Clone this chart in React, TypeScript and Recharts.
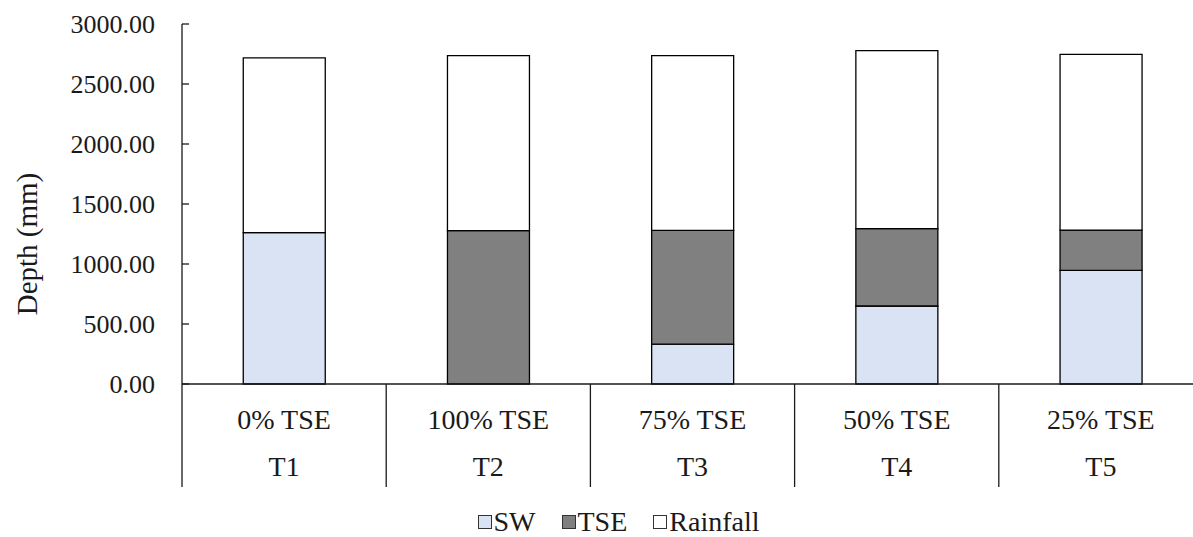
import { BarChart, Bar, XAxis, YAxis, Legend } from "recharts";

document.body.style.margin = "0";

const treatments = ["T1", "T2", "T3", "T4", "T5"];
const tseShares = ["0% TSE", "100% TSE", "75% TSE", "50% TSE", "25% TSE"];
const swDepth = [1261, 0, 333, 650, 947];
const tseDepth = [0, 1278, 948, 644, 336];
const rainDepth = [1456, 1458, 1455, 1484, 1464];
const depthTicks = [0, 500, 1000, 1500, 2000, 2500, 3000];

const series = [
  { key: "SW", fill: "#dae3f3" },
  { key: "TSE", fill: "#808080" },
  { key: "Rainfall", fill: "#ffffff" },
];

const data = treatments.map((t, i) => ({
  name: t,
  share: tseShares[i],
  SW: swDepth[i],
  TSE: tseDepth[i],
  Rainfall: rainDepth[i],
}));

const FONT = "'Liberation Serif', 'Times New Roman', serif";
const INK = "#1a1a1a";

function DepthTick({ x, y, payload }: any) {
  return (
    <g>
      <line x1={x} x2={x + 7} y1={y} y2={y} stroke={INK} strokeWidth={1.3} />
      <text x={x - 27} y={y} dy="0.35em" textAnchor="end" fontFamily={FONT} fontSize={26} fill={INK}>
        {Number(payload.value).toFixed(2)}
      </text>
    </g>
  );
}

// two-row category labels with Excel style group dividers
function CategoryTick({ x, y, payload, index, visibleTicksCount }: any) {
  const half = payload.offset ?? 0;
  const row = data.find((d) => d.name === payload.value);
  const last = index === visibleTicksCount - 1;
  return (
    <g>
      <line x1={x - half} x2={x - half} y1={y} y2={y + 103} stroke={INK} strokeWidth={1.3} />
      {last && <line x1={x + half} x2={x + half} y1={y} y2={y + 103} stroke={INK} strokeWidth={1.3} />}
      <text x={x} y={y + 35} dy="0.35em" textAnchor="middle" fontFamily={FONT} fontSize={28} fill={INK}>
        {row?.share}
      </text>
      <text x={x} y={y + 82} dy="0.35em" textAnchor="middle" fontFamily={FONT} fontSize={28} fill={INK}>
        {payload.value}
      </text>
    </g>
  );
}

function DepthLabel({ viewBox }: any) {
  const cx = 27;
  const cy = viewBox.y + viewBox.height / 2 + 40;
  return (
    <text
      x={cx}
      y={cy}
      transform={`rotate(-90, ${cx}, ${cy})`}
      dy="0.35em"
      textAnchor="middle"
      fontFamily={FONT}
      fontSize={29}
      fill={INK}
    >
      Depth (mm)
    </text>
  );
}

function SeriesLegend() {
  return (
    <div style={{ display: "flex", justifyContent: "center", alignItems: "center", gap: 26, fontFamily: FONT, fontSize: 28, color: INK }}>
      {series.map((s) => (
        <div key={s.key} style={{ display: "flex", alignItems: "center", gap: 2 }}>
          <span
            style={{
              display: "inline-block",
              width: 12,
              height: 12,
              background: s.fill,
              border: "1.5px solid #333",
            }}
          />
          <span>{s.key}</span>
        </div>
      ))}
    </div>
  );
}

export default function App() {
  return (
    <div style={{ width: 1193, height: 537, overflow: "hidden", background: "#fff" }}>
      <BarChart
        width={1203}
        height={537}
        data={data}
        margin={{ top: 24, right: 0, bottom: 0, left: 0 }}
        barCategoryGap="30%"
      >
        <YAxis
          width={182}
          domain={[0, 3000]}
          ticks={depthTicks}
          interval={0}
          tickSize={0}
          tickMargin={0}
          tickLine={false}
          axisLine={{ stroke: INK, strokeWidth: 1.3 }}
          tick={<DepthTick />}
          label={<DepthLabel />}
        />
        <XAxis
          dataKey="name"
          height={153}
          interval={0}
          tickSize={0}
          tickMargin={0}
          tickLine={false}
          axisLine={{ stroke: INK, strokeWidth: 1.3 }}
          tick={<CategoryTick />}
        />
        <Legend
          layout="horizontal"
          verticalAlign="middle"
          align="center"
          wrapperStyle={{ top: 506, left: 22, width: 1193 }}
          content={<SeriesLegend />}
        />
        {series.map((s) => (
          <Bar
            key={s.key}
            dataKey={s.key}
            stackId="depth"
            fill={s.fill}
            stroke="#000"
            strokeWidth={1.3}
            isAnimationActive={false}
          />
        ))}
      </BarChart>
    </div>
  );
}
